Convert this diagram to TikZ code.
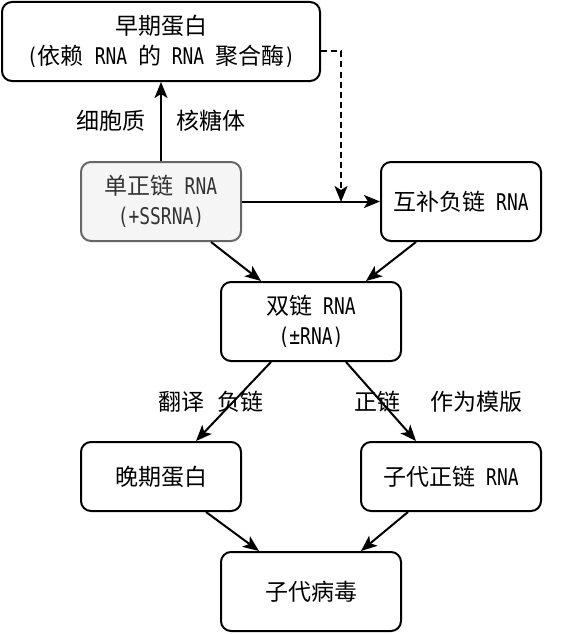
\documentclass[tikz,border=0pt]{standalone}
\usepackage{fontspec}
\setmainfont{Noto Sans CJK SC}
\newfontfamily\mnf[FakeStretch=0.78]{DejaVu Sans Mono}
\newcommand\mt[1]{{\mnf #1}}
\usetikzlibrary{arrows.meta,calc}
\definecolor{ssfill}{HTML}{F5F5F5}
\definecolor{ssdraw}{HTML}{666666}
\definecolor{sstext}{HTML}{333333}
\begin{document}
\begin{tikzpicture}[x=1pt,y=-1pt,
  every node/.style={font=\fontsize{23}{29.5}\selectfont},
  box/.style={draw,rounded corners=10pt,line width=2pt,align=center,inner sep=0pt},
  conn/.style={line width=2pt,-{Stealth[length=16pt,width=13pt,inset=4pt]}},
  lbl/.style={inner sep=0pt}]
\useasboundingbox (0,0) rectangle (562,634);
\node[box,minimum width=318pt,minimum height=79pt] (early) at (161,41.5)
  {早期蛋白\\\mt{(}依赖\mt{~RNA~}的\mt{~RNA~}聚合酶\mt{)}};
\node[box,minimum width=160pt,minimum height=79pt,fill=ssfill,draw=ssdraw,text=sstext] (ss) at (161,201.5)
  {单正链\mt{~RNA}\\\mt{(+SSRNA)}};
\node[box,minimum width=160pt,minimum height=79pt] (comp) at (461,201.5)
  {互补负链\mt{~RNA}};
\node[box,minimum width=180pt,minimum height=79pt] (ds) at (311,321.5)
  {双链\mt{~RNA}\\\mt{(±RNA)}};
\node[box,minimum width=160pt,minimum height=69pt] (late) at (161,476.5) {晚期蛋白};
\node[box,minimum width=180pt,minimum height=69pt] (child) at (451,476.5) {子代正链\mt{~RNA}};
\node[box,minimum width=180pt,minimum height=79pt] (virus) at (311,591.5) {子代病毒};
\node[lbl] (l1) at (111,121) {细胞质};
\node[lbl] (l2) at (211,121) {核糖体};
\node[lbl] (l3) at (181,402) {翻译};
\node[lbl] (l4) at (240.5,402) {负链};
\node[lbl] (l5) at (377.5,402) {正链};
\node[lbl] (l6) at (476.5,402) {作为模版};
\coordinate (j) at (341,202);
\draw[conn] (ss.north) -- (early.south);
\draw[conn] (ss.east) -- (comp.west);
\draw[conn,dash pattern=on 6pt off 4pt] ([yshift=-10pt]early.east) -| (j);
\draw[conn] ([xshift=50pt]ss.south) -- ([xshift=-50pt]ds.north);
\draw[conn] ([xshift=-45pt]comp.south) -- ([xshift=55pt]ds.north);
\draw[conn] ([xshift=-40pt]ds.south) -- ([xshift=35pt]late.north);
\draw[conn] ([xshift=35pt]ds.south) -- ([xshift=-35pt]child.north);
\draw[conn] ([xshift=45pt]late.south) -- ([xshift=-52pt]virus.north);
\draw[conn] ([xshift=-43pt]child.south) -- ([xshift=50pt]virus.north);
\end{tikzpicture}
\end{document}
